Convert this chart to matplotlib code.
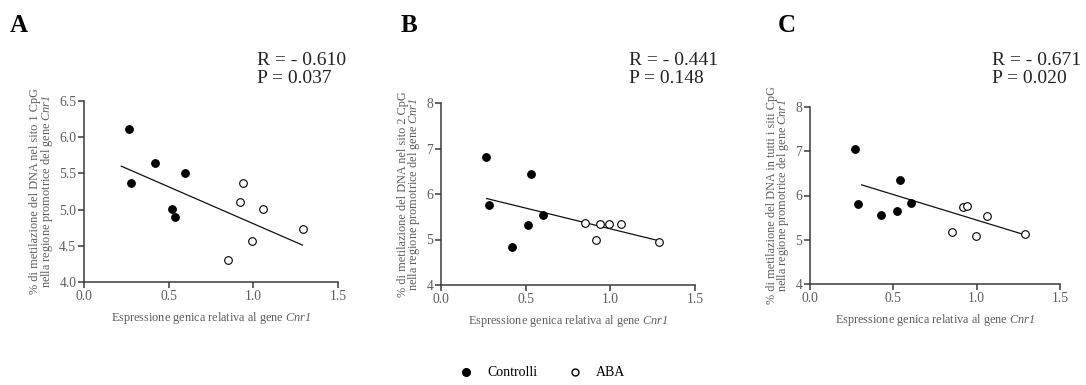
import numpy as np
import matplotlib
matplotlib.use('Agg')
import matplotlib.pyplot as plt
from matplotlib.lines import Line2D

plt.rcParams['font.family'] = ['Liberation Serif', 'DejaVu Serif']
# math text only used for the italic gene name
plt.rcParams['mathtext.fontset'] = 'custom'
plt.rcParams['mathtext.rm'] = 'Liberation Serif:italic'
plt.rcParams['mathtext.it'] = 'Liberation Serif:italic'

# values
ctrl_x_A = [0.268, 0.278, 0.420, 0.599, 0.518, 0.540]
ctrl_y_A = [6.11, 5.37, 5.65, 5.50, 5.01, 4.90]
aba_x_A = [0.940, 0.921, 1.060, 1.291, 0.990, 0.850]
aba_y_A = [5.37, 5.11, 5.01, 4.73, 4.57, 4.31]
fit_x_A = [0.22, 1.29]
fit_y_A = [5.60, 4.51]

ctrl_x_B = [0.267, 0.281, 0.533, 0.600, 0.515, 0.419]
ctrl_y_B = [6.82, 5.76, 6.44, 5.53, 5.32, 4.83]
aba_x_B = [0.853, 0.938, 0.991, 1.061, 0.916, 1.288]
aba_y_B = [5.36, 5.35, 5.34, 5.35, 5.00, 4.94]
fit_x_B = [0.27, 1.29]
fit_y_B = [5.90, 4.97]

ctrl_x_C = [0.272, 0.286, 0.424, 0.520, 0.538, 0.604]
ctrl_y_C = [7.06, 5.81, 5.57, 5.64, 6.35, 5.84]
aba_x_C = [0.918, 0.944, 1.064, 0.854, 0.994, 1.290]
aba_y_C = [5.75, 5.77, 5.53, 5.17, 5.09, 5.13]
fit_x_C = [0.31, 1.29]
fit_y_C = [6.24, 5.11]

panel_letters = ['A', 'B', 'C']
stats = [('- 0.610', '0.037'), ('- 0.441', '0.148'), ('- 0.671', '0.020')]
ylabels = [
    '% di metilazione del DNA nel sito 1 CpG\nnella regione promotrice del gene $\\mathrm{Cnr1}$',
    '% di metilazione del DNA nel sito 2 CpG\nnella regione promotrice del gene $\\mathrm{Cnr1}$',
    '% di metilazione del DNA in tutti i siti CpG\nnella regione promotrice del gene $\\mathrm{Cnr1}$',
]
xlabel = 'Espressione genica relativa al gene $\\mathrm{Cnr1}$'
xticks = [0.0, 0.5, 1.0, 1.5]
yticks_A = [4.0, 4.5, 5.0, 5.5, 6.0, 6.5]
yticks_BC = [4, 5, 6, 7, 8]

data = [
    (ctrl_x_A, ctrl_y_A, aba_x_A, aba_y_A, fit_x_A, fit_y_A, yticks_A, '{:.1f}'),
    (ctrl_x_B, ctrl_y_B, aba_x_B, aba_y_B, fit_x_B, fit_y_B, yticks_BC, '{:.0f}'),
    (ctrl_x_C, ctrl_y_C, aba_x_C, aba_y_C, fit_x_C, fit_y_C, yticks_BC, '{:.0f}'),
]

W, H = 1086, 385
fig = plt.figure(figsize=(W / 100, H / 100), dpi=100)

# axes boxes in pixels: left, top, right, bottom
boxes = [(84, 101, 338, 282), (441, 103, 695, 285), (810, 107, 1060, 284)]
letter_pos = [(10, 14), (401, 14), (778, 14)]
stat_pos = [257, 629, 992]

grey = '#5e5e5e'
axcol = '#3a3a3a'
for i, (cx, cy, ax_, ay, fx, fy, yt, fmt) in enumerate(data):
    l, t, r, b = boxes[i]
    ax = fig.add_axes([l / W, 1 - b / H, (r - l) / W, (b - t) / H])
    ax.plot(fx, fy, color='#111111', lw=0.9, zorder=1)
    ax.plot(cx, cy, 'o', ms=5.5, mfc='black', mec='black', mew=0.8, zorder=3)
    ax.plot(ax_, ay, 'o', ms=5.5, mfc='white', mec='black', mew=0.8, zorder=3)
    ax.set_xlim(0, 1.5)
    ax.set_ylim(yt[0], yt[-1])
    ax.set_xticks(xticks)
    ax.set_xticklabels(['{:.1f}'.format(v) for v in xticks])
    ax.set_yticks(yt)
    ax.set_yticklabels([fmt.format(v) for v in yt])
    for s in ['top', 'right']:
        ax.spines[s].set_visible(False)
    for s in ['left', 'bottom']:
        ax.spines[s].set_linewidth(1.1)
        ax.spines[s].set_color(axcol)
    ax.tick_params(direction='out', length=4, width=1.1, color=axcol,
                   labelsize=9.8, labelcolor=grey, pad=1.5)
    ax.set_xlabel(xlabel, fontsize=8.8, color=grey, labelpad=5)
    ax.set_ylabel(ylabels[i], fontsize=8.8, color=grey, labelpad=3, linespacing=0.8)

    lx, ly = letter_pos[i]
    fig.text(lx / W, 1 - ly / H, panel_letters[i], fontsize=18, fontweight='bold',
             va='top', ha='left')
    rv, pv = stats[i]
    fig.text(stat_pos[i] / W, 1 - 65 / H, 'R = ' + rv, fontsize=14, color='#222222',
             va='baseline', ha='left')
    fig.text(stat_pos[i] / W, 1 - 83 / H, 'P = ' + pv, fontsize=14, color='#222222',
             va='baseline', ha='left')

handles = [
    Line2D([], [], ls='none', marker='o', ms=5.5, mfc='black', mec='black'),
    Line2D([], [], ls='none', marker='o', ms=5, mfc='white', mec='black'),
]
fig.legend(handles, ['Controlli', 'ABA'], loc='center', bbox_to_anchor=(0.499, 1 - 373 / H),
           ncol=2, frameon=False, fontsize=10, handletextpad=1.0, columnspacing=2.2,
           handlelength=1.0)

fig.savefig('out.png', dpi=100)
